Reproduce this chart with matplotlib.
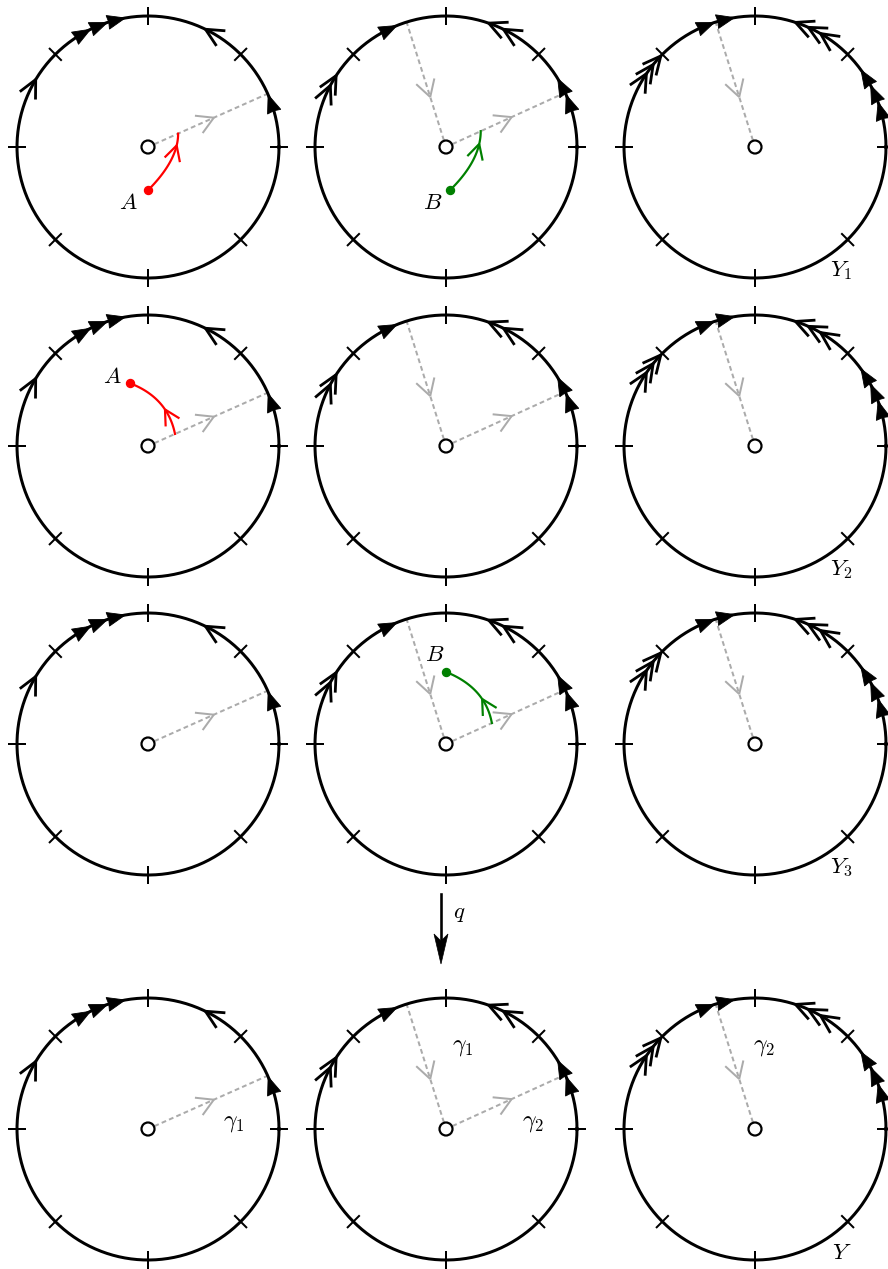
import numpy as np
import matplotlib
matplotlib.use('Agg')
import matplotlib.pyplot as plt
from matplotlib.patches import Polygon, Circle

plt.rcParams['mathtext.fontset'] = 'cm'

# ---------------- data ----------------
col_x = [148, 446, 755]          # panel centres (px)
row_y = [147, 446, 744, 1129]
R = 131

tick_angles = [0, 45, 90, 135, 180, 225, 270, 315]

# boundary marks per column: (kind, tip angles in degrees, travel direction)
col1_marks = [('T', [100, 108, 116], 'cw'), ('V', [149], 'cw'),
              ('V', [64], 'ccw'), ('T', [23.5], 'ccw')]
col2_marks = [('T', [112], 'cw'), ('V', [147, 152], 'cw'),
              ('V', [71, 64], 'ccw'), ('T', [31.5, 23.5], 'ccw')]
col3_marks = [('T', [99, 108], 'cw'), ('V', [136, 141, 146], 'cw'),
              ('V', [72, 66, 60], 'ccw'), ('T', [36, 28, 20], 'ccw')]
col_marks = [col1_marks, col2_marks, col3_marks]

# gray dashed rays: (angle deg, 'out' = centre->boundary, 'in' = boundary->centre)
col_rays = [[(24, 'out')], [(24.5, 'out'), (107.5, 'in')], [(107.5, 'in')]]

# lifted paths (local units of R, y up)
paths = [
    # row, col, colour, label, start, control, end, label offset, arrow dir
    (0, 0, 'red',   'A', (0.00, -0.33), (0.23, -0.10), (0.23, 0.102), (-0.15, -0.09), 'fwd'),
    (1, 0, 'red',   'A', (-0.14, 0.48), (0.15, 0.37), (0.206, 0.092), (-0.13, 0.05), 'back'),
    (0, 1, 'green', 'B', (0.03, -0.33), (0.265, -0.10), (0.265, 0.121), (-0.13, -0.09), 'fwd'),
    (2, 1, 'green', 'B', (0.00, 0.55), (0.30, 0.43), (0.35, 0.160), (-0.09, 0.13), 'back'),
]

sheet_labels = [r'$Y_1$', r'$Y_2$', r'$Y_3$', r'$Y$']
gamma_labels = [  # (col, text, local x, local y)
    (0, r'$\gamma_1$', 0.65, 0.05),
    (1, r'$\gamma_1$', 0.13, 0.63),
    (1, r'$\gamma_2$', 0.66, 0.05),
    (2, r'$\gamma_2$', 0.07, 0.63),
]

# ---------------- drawing ----------------
W, H = 888, 1269
fig = plt.figure(figsize=(W / 100, H / 100), dpi=100)
ax = fig.add_axes([0, 0, 1, 1])
ax.set_xlim(0, W)
ax.set_ylim(H, 0)
ax.set_aspect('equal')
ax.axis('off')

PX = 72 / 100  # points per pixel
GRAY = '#ababab'


def pt(cx, cy, r, ang_deg):
    a = np.deg2rad(ang_deg)
    return np.array([cx + r * np.cos(a), cy - r * np.sin(a)])


def tri(cx, cy, tip_deg, direction, L=18, w=14):
    s = 1 if direction == 'ccw' else -1
    tip = pt(cx, cy, R, tip_deg)
    back = pt(cx, cy, R, tip_deg - s * np.rad2deg(L / R))
    u = (tip - back) / np.linalg.norm(tip - back)
    n = np.array([-u[1], u[0]])
    inner = back + u * 1.0
    poly = [tip, back + n * w / 2, inner, back - n * w / 2]
    ax.add_patch(Polygon(poly, closed=True, fc='black', ec='black', lw=0.6, zorder=5))


def chevron(tip, bdir, L=16, half=27, color='black', lw=2.0 * PX, z=5):
    bdir = bdir / np.linalg.norm(bdir)
    for sgn in (1, -1):
        a = np.deg2rad(sgn * half)
        rot = np.array([[np.cos(a), -np.sin(a)], [np.sin(a), np.cos(a)]])
        d = rot @ bdir
        end = tip + d * L
        ax.plot([tip[0], end[0]], [tip[1], end[1]], color=color, lw=lw,
                solid_capstyle='butt', zorder=z)


def circ_chevron(cx, cy, tip_deg, direction, L=20):
    s = 1 if direction == 'ccw' else -1
    tip = pt(cx, cy, R, tip_deg)
    back = pt(cx, cy, R, tip_deg - s * np.rad2deg(L / R))
    chevron(tip, back - tip, L=L, half=26, color='black', lw=2.8 * PX)


def bez(p0, p1, p2, t):
    p0, p1, p2 = map(np.array, (p0, p1, p2))
    t = np.atleast_1d(t)[:, None]
    return (1 - t) ** 2 * p0 + 2 * (1 - t) * t * p1 + t ** 2 * p2


for ri, cy in enumerate(row_y):
    for ci, cx in enumerate(col_x):
        th = np.linspace(0, 2 * np.pi, 400)
        ax.plot(cx + R * np.cos(th), cy - R * np.sin(th), color='black',
                lw=3.0 * PX, zorder=3)
        for ta in tick_angles:
            p1 = pt(cx, cy, R - 9, ta)
            p2 = pt(cx, cy, R + 9, ta)
            ax.plot([p1[0], p2[0]], [p1[1], p2[1]], color='black',
                    lw=2.0 * PX, zorder=3, solid_capstyle='butt')
        for kind, angs, d in col_marks[ci]:
            for a in angs:
                if kind == 'T':
                    tri(cx, cy, a, d)
                else:
                    circ_chevron(cx, cy, a, d)
        for ang, way in col_rays[ci]:
            a0 = pt(cx, cy, 7, ang)
            a1 = pt(cx, cy, R, ang)
            ax.plot([a0[0], a1[0]], [a0[1], a1[1]], color=GRAY, lw=2.0 * PX,
                    linestyle=(0, (2.4, 1.6)), zorder=2)
            if way == 'out':
                tip = pt(cx, cy, 0.55 * R, ang)
                chevron(tip, a0 - a1, L=19, half=30, color=GRAY, lw=2.0 * PX, z=2)
            else:
                tip = pt(cx, cy, 0.40 * R, ang)
                chevron(tip, a1 - a0, L=19, half=30, color=GRAY, lw=2.0 * PX, z=2)
        ax.add_patch(Circle((cx, cy), 6.5, fc='white', ec='black',
                            lw=2.2 * PX, zorder=6))

for ri, ci, colr, lab, s, c, e, loff, adir in paths:
    cx, cy = col_x[ci], row_y[ri]
    to_px = lambda p: np.array([cx + R * p[0], cy - R * p[1]])
    P0, P1, P2 = to_px(s), to_px(c), to_px(e)
    t = np.linspace(0, 1, 100)
    curve = bez(P0, P1, P2, t)
    ax.plot(curve[:, 0], curve[:, 1], color=colr, lw=2.2 * PX, zorder=4)
    ax.plot(*P0, 'o', color=colr, ms=8 * PX, zorder=7)
    if adir == 'fwd':
        tt = 0.78
        tip = bez(P0, P1, P2, tt)[0]
        back = bez(P0, P1, P2, tt - 0.12)[0]
    else:
        tt = 0.62
        tip = bez(P0, P1, P2, tt)[0]
        back = bez(P0, P1, P2, tt + 0.12)[0]
    chevron(tip, back - tip, L=17, half=28, color=colr, lw=2.2 * PX, z=4)
    lp = to_px((s[0] + loff[0], s[1] + loff[1]))
    ax.text(lp[0], lp[1], '$' + lab + '$', fontsize=16.5, ha='center',
            va='center', zorder=8)

for ri, lab in enumerate(sheet_labels):
    cx, cy = col_x[2], row_y[ri]
    ax.text(cx + 0.66 * R, cy + 0.94 * R, lab, fontsize=16.5, ha='center',
            va='center')

for ci, lab, lx, ly in gamma_labels:
    cx, cy = col_x[ci], row_y[3]
    ax.text(cx + lx * R, cy - ly * R, lab, fontsize=17, ha='center',
            va='center', color='black')

# covering map arrow q
qx = col_x[1] - 5
ax.plot([qx, qx], [894, 945], color='black', lw=2.6 * PX, zorder=3)
ax.add_patch(Polygon([[qx, 964], [qx - 7, 934], [qx, 941], [qx + 7, 934]],
                     closed=True, fc='black', ec='black', lw=0.5, zorder=4))
ax.text(qx + 18, 912, r'$q$', fontsize=16.5, ha='center', va='center')

fig.savefig('out.png', dpi=100)
